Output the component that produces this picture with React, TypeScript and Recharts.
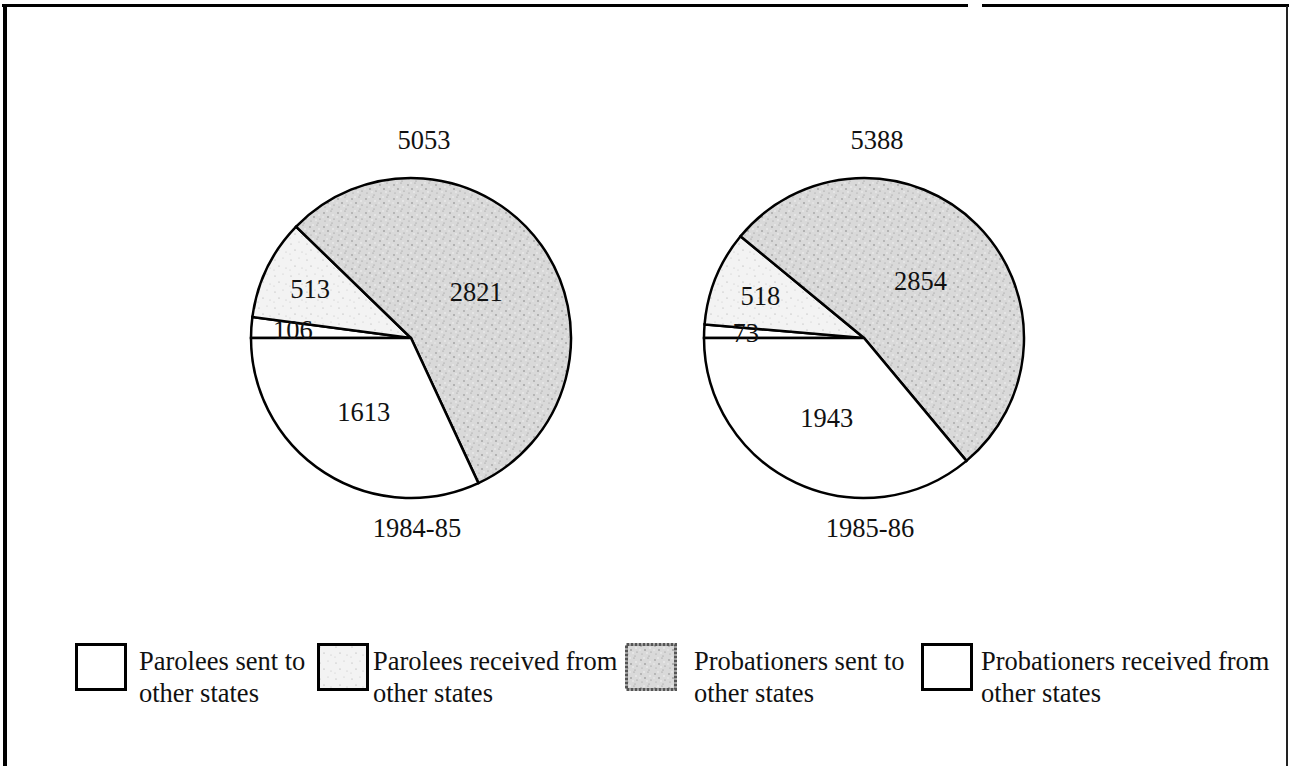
import React from 'react';
import { PieChart, Pie, Cell } from 'recharts';

const years = ['1984-85', '1985-86'];
const categories = [
  'Parolees sent to other states',
  'Parolees received from other states',
  'Probationers sent to other states',
  'Probationers received from other states',
];
const legendLines = [
  ['Parolees sent to', 'other states'],
  ['Parolees received from', 'other states'],
  ['Probationers sent to', 'other states'],
  ['Probationers received from', 'other states'],
];
const values8485 = [106, 513, 2821, 1613];
const values8586 = [73, 518, 2854, 1943];

const FONT = '"Liberation Serif", "Times New Roman", serif';
const FILLS = ['#ffffff', 'url(#stippleLight)', 'url(#stipple)', '#ffffff'];
const LABEL_R = [0.74, 0.7, 0.5, 0.55];
const RADIAN = Math.PI / 180;

const W = 1289;
const H = 766;
const R = 160;
const CY = 338;
const CX = [411, 864];

const toRows = (vals: number[]) => categories.map((name, i) => ({ name, value: vals[i] }));
const series = [toRows(values8485), toRows(values8586)];
const totals = series.map((rows) => rows.reduce((s, r) => s + r.value, 0));

const renderLabel = (props: any) => {
  const { cx, cy, midAngle, outerRadius, value, index } = props;
  const r = outerRadius * LABEL_R[index];
  const x = cx + r * Math.cos(-midAngle * RADIAN);
  const y = cy + r * Math.sin(-midAngle * RADIAN);
  return (
    <text x={x} y={y} textAnchor="middle" dominantBaseline="central" fill="#111" fontSize={26.5} fontFamily={FONT}>
      {value}
    </text>
  );
};

// stipple texture for the shaded slices
const Patterns = () => (
  <svg width={0} height={0} style={{ position: 'absolute' }}>
    <defs>
      <pattern id="stipple" width={14} height={14} patternUnits="userSpaceOnUse">
        <rect width={14} height={14} fill="#d9d9d9" />
        <circle cx={2} cy={3} r={0.7} fill="#7a7a7a" />
        <circle cx={9} cy={1} r={0.6} fill="#909090" />
        <circle cx={6} cy={7} r={0.7} fill="#6e6e6e" />
        <circle cx={12} cy={9} r={0.6} fill="#888" />
        <circle cx={3} cy={11} r={0.6} fill="#999" />
        <circle cx={10} cy={13} r={0.5} fill="#7f7f7f" />
        <circle cx={5} cy={1} r={0.8} fill="#f2f2f2" />
        <circle cx={11} cy={5} r={0.8} fill="#f5f5f5" />
        <circle cx={1} cy={7} r={0.7} fill="#f0f0f0" />
        <circle cx={8} cy={10} r={0.8} fill="#f4f4f4" />
      </pattern>
      <pattern id="stippleLight" width={16} height={16} patternUnits="userSpaceOnUse">
        <rect width={16} height={16} fill="#f3f3f3" />
        <circle cx={3} cy={4} r={0.6} fill="#a8a8a8" />
        <circle cx={11} cy={2} r={0.5} fill="#bbb" />
        <circle cx={7} cy={10} r={0.6} fill="#a0a0a0" />
        <circle cx={14} cy={12} r={0.5} fill="#b5b5b5" />
        <circle cx={2} cy={14} r={0.5} fill="#c0c0c0" />
      </pattern>
    </defs>
  </svg>
);

const legendX = [75, 317, 625, 921];
const textX = [139, 373, 694, 981];

export default function App() {
  return (
    <div style={{ position: 'absolute', left: 0, top: 0, width: W, height: H, background: '#fff', fontFamily: FONT, overflow: 'hidden' }}>
      <Patterns />
      {/* page frame */}
      <div style={{ position: 'absolute', left: 2, top: 4, width: 966, height: 3, background: '#000' }} />
      <div style={{ position: 'absolute', left: 982, top: 4, width: W - 982, height: 3, background: '#000' }} />
      <div style={{ position: 'absolute', left: 3, top: 4, width: 4, height: H - 4, background: '#000' }} />
      <div style={{ position: 'absolute', left: 1286, top: 6, width: 2, height: H - 6, background: '#222' }} />

      <div style={{ position: 'absolute', left: 0, top: 0 }}>
        <PieChart width={W} height={H} margin={{ top: 0, right: 0, bottom: 0, left: 0 }}>
          {series.map((rows, k) => (
            <Pie
              key={years[k]}
              data={rows}
              dataKey="value"
              nameKey="name"
              cx={CX[k]}
              cy={CY}
              outerRadius={R}
              startAngle={180}
              endAngle={-180}
              stroke="#000"
              strokeWidth={2.5}
              label={renderLabel}
              labelLine={false}
              isAnimationActive={false}
            >
              {rows.map((row, i) => (
                <Cell key={row.name} fill={FILLS[i]} />
              ))}
            </Pie>
          ))}
        </PieChart>
      </div>

      {/* totals above, years below */}
      <svg width={W} height={H} style={{ position: 'absolute', left: 0, top: 0, pointerEvents: 'none' }}>
        {years.map((yr, k) => (
          <g key={yr} fontFamily={FONT} fontSize={26.5} fill="#111" textAnchor="middle">
            <text x={CX[k] + 13} y={149}>{totals[k]}</text>
            <text x={CX[k] + 6} y={537}>{yr}</text>
          </g>
        ))}
      </svg>

      {/* legend */}
      {legendLines.map((lines, i) => (
        <React.Fragment key={categories[i]}>
          <svg width={52} height={48} style={{ position: 'absolute', left: legendX[i], top: 643 }}>
            <rect
              x={1.5}
              y={1.5}
              width={49}
              height={45}
              fill={FILLS[i]}
              stroke={i === 2 ? '#555' : '#000'}
              strokeWidth={3}
              strokeDasharray={i === 2 ? '3 1' : undefined}
            />
          </svg>
          <div style={{ position: 'absolute', left: textX[i], top: 645, fontSize: 26.5, lineHeight: '32px', color: '#111', whiteSpace: 'nowrap' }}>
            <div>{lines[0]}</div>
            <div>{lines[1]}</div>
          </div>
        </React.Fragment>
      ))}
    </div>
  );
}
